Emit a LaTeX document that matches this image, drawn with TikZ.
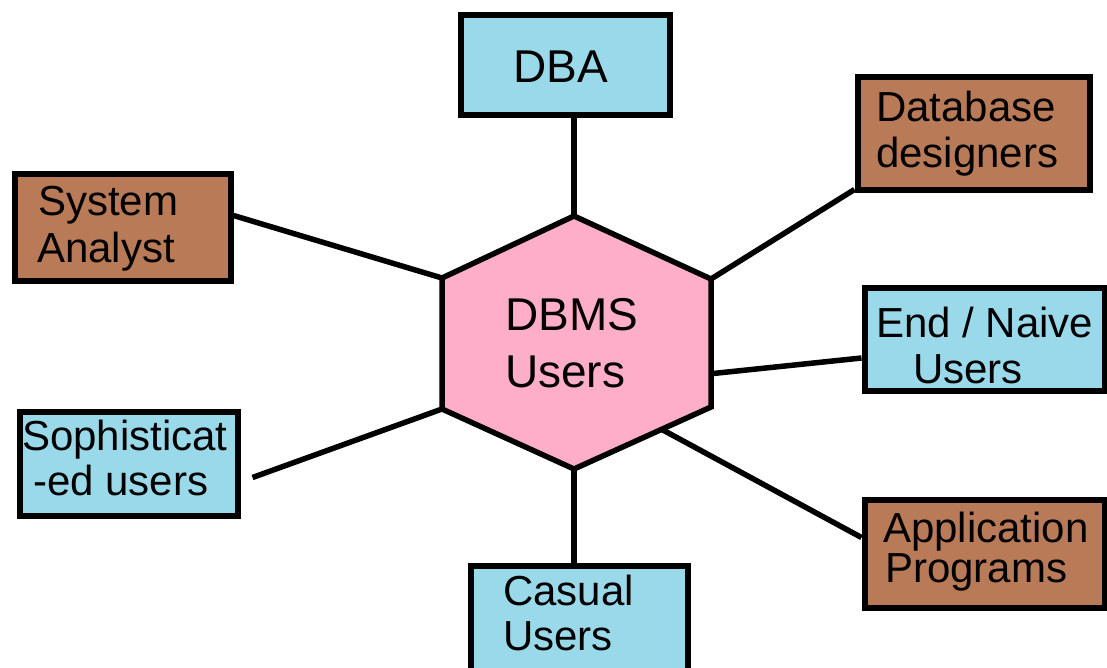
\documentclass[tikz,border=0pt]{standalone}
\usepackage{fontspec}
\setmainfont{Liberation Sans}
\usetikzlibrary{calc,backgrounds}
\definecolor{boxblue}{HTML}{99D9EA}
\definecolor{boxbrown}{HTML}{B97A57}
\definecolor{hexpink}{HTML}{FFAEC9}
\tikzset{
  x=1pt, y=-1pt,
  userbox/.style={draw=black, line width=6pt, inner sep=0pt, rectangle},
  bluebox/.style={userbox, fill=boxblue},
  brownbox/.style={userbox, fill=boxbrown},
  boxtext/.style={anchor=base west, inner sep=0pt, font=\fontsize{42}{46}\selectfont},
  bigtext/.style={anchor=base west, inner sep=0pt, font=\fontsize{46}{52}\selectfont},
  link/.style={draw=black, line width=5.5pt},
  hexagon/.style={draw=black, fill=hexpink, line width=5.5pt, line join=miter}
}
\begin{document}
\begin{tikzpicture}
\useasboundingbox (0,0) rectangle (1107,668);
% hexagon corners
\coordinate (hT)  at (574,216);
\coordinate (hUR) at (711,279);
\coordinate (hLR) at (711,407);
\coordinate (hB)  at (574,469);
\coordinate (hLL) at (442,409);
\coordinate (hUL) at (442,278);
\draw[hexagon] (hT) -- (hUR) -- (hLR) -- (hB) -- (hLL) -- (hUL) -- cycle;
\node[bigtext] (dbms1) at (505,330) {DBMS};
\node[bigtext] (dbms2) at (505,387) {Users};

% boxes
\node[bluebox, minimum width=209pt, minimum height=100pt] (dba) at (565,65.5) {};
\node[bigtext] (dbat) at (513,83) {DBA};

\node[brownbox, minimum width=232pt, minimum height=113pt] (dbd) at (973.5,134) {};
\node[boxtext] (dbd1) at (876,122) {Database};
\node[boxtext] (dbd2) at (876,168) {designers};

\node[bluebox, minimum width=240pt, minimum height=103pt] (endu) at (984.5,339) {};
\node[boxtext] (endu1) at (876,337) {End / Naive};
\node[boxtext] (endu2) at (913,383) {Users};

\node[brownbox, minimum width=216pt, minimum height=106pt] (sys) at (122.5,227.5) {};
\node[boxtext] (sys1) at (38,215) {System};
\node[boxtext] (sys2) at (37,262) {Analyst};

\node[bluebox, minimum width=218pt, minimum height=104pt] (soph) at (128.5,463.5) {};
\node[boxtext] (soph1) at (22,450) {Sophisticat};
\node[boxtext] (soph2) at (33,495) {-ed users};

\node[bluebox, minimum width=217pt, minimum height=132pt] (cas) at (579,631.5) {};
\node[boxtext] (cas1) at (503,605) {Casual};
\node[boxtext] (cas2) at (503,650) {Users};

\node[brownbox, minimum width=240pt, minimum height=108pt] (app) at (984.5,553.5) {};
\node[boxtext] (app1) at (883,542) {Application};
\node[boxtext] (app2) at (885,582) {Programs};

% background and connectors
\begin{pgfonlayer}{background}
\fill[white] (0,0) rectangle (1107,668);
\draw[link] (hT |- dba.south) -- (hT);
\draw[link] ($(dbd.south west)+(0,-4)$) -- (hUR);
\draw[link] ($(endu.west)+(0,19)$) -- ($(hUR)!0.74!(hLR)$);
\draw[link] ($(sys.east)+(0,-12)$) -- (hUL);
\draw[link] ($(soph.east)+(12,14)$) -- (hLL);
\draw[link] ($(app.west)+(0,-16)$) -- ($(hLR)!0.36!(hB)$);
\draw[link] (hB) -- (hB |- cas.north);
\end{pgfonlayer}
\end{tikzpicture}
\end{document}
